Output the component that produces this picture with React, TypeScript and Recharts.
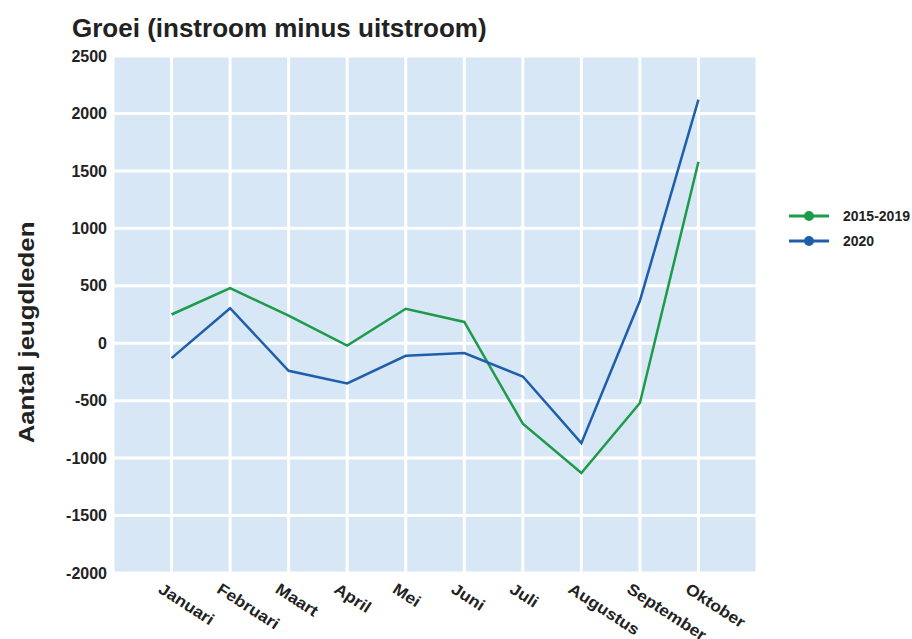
import { CartesianGrid, Line, LineChart, XAxis, YAxis } from "recharts";

document.body.style.margin = "0";

const FONT = "'Liberation Sans', Arial, sans-serif";

// maanden (categorieën)
const months = ["Januari", "Februari", "Maart", "April", "Mei", "Juni", "Juli", "Augustus", "September", "Oktober"];
// groei per maand
const avg2015to2019 = [250, 480, 240, -20, 300, 185, -700, -1130, -520, 1580];
const year2020 = [-130, 305, -240, -350, -110, -85, -290, -870, 370, 2120];
const yTicks = [-2000, -1500, -1000, -500, 0, 500, 1000, 1500, 2000, 2500];
const xTicks = months.map((_, i) => i);

const series = [
  { key: "a", name: "2015-2019", color: "#1e9a4b" },
  { key: "b", name: "2020", color: "#1f5faa" },
];

const data = months.map((m, i) => ({ i, month: m, a: avg2015to2019[i], b: year2020[i] }));

function MonthTick({ x, y, payload }: any) {
  const ax = x - 8;
  const ay = y + 1;
  return (
    <text x={0} y={0} dy="0.72em" transform={`translate(${ax} ${ay}) rotate(33) scale(1.1 1)`} textAnchor="start"
      fontFamily={FONT} fontWeight={700} fontSize={16} fill="#222">
      {months[payload.value]}
    </text>
  );
}

function YLabel({ viewBox }: any) {
  const cx = 26;
  const cy = viewBox.y + viewBox.height / 2 + 18;
  return (
    <text x={0} y={0} transform={`translate(${cx} ${cy}) rotate(-90) scale(1.12 1)`} textAnchor="middle"
      dominantBaseline="central" fontFamily={FONT} fontWeight={700} fontSize={23} fill="#222">
      Aantal jeugdleden
    </text>
  );
}

function LegendBox() {
  return (
    <div style={{ position: "absolute", left: 789, top: 203, fontFamily: FONT }}>
      {series.map((s) => (
        <div key={s.key} style={{ display: "flex", alignItems: "center", height: 25 }}>
          <svg width={40} height={12}>
            <line x1={0} y1={6} x2={40} y2={6} stroke={s.color} strokeWidth={3} />
            <circle cx={20} cy={6} r={5} fill={s.color} />
          </svg>
          <span style={{ marginLeft: 14, fontWeight: 700, fontSize: 14, color: "#222" }}>{s.name}</span>
        </div>
      ))}
    </div>
  );
}

export default function App() {
  return (
    <div style={{ position: "relative", width: 912, height: 639, background: "#fff" }}>
      <div style={{ position: "absolute", left: 72, top: 15, fontFamily: FONT, fontWeight: 700, fontSize: 26, lineHeight: "26px", color: "#222" }}>
        Groei (instroom minus uitstroom)
      </div>
      <LineChart width={912} height={639} data={data} margin={{ top: 56, right: 155, bottom: 0, left: 0 }}>
        <CartesianGrid fill="#d7e7f6" stroke="#fff" strokeWidth={3} />
        <XAxis dataKey="i" type="number" domain={[-1, 10]} ticks={xTicks} interval={0}
          axisLine={false} tickLine={false} tick={<MonthTick />} height={66} />
        <YAxis domain={[-2000, 2500]} ticks={yTicks} interval={0} width={113} axisLine={false} tickLine={false}
          tickMargin={0}
          tick={{ fontFamily: FONT, fontWeight: 700, fontSize: 16, fill: "#222" }}
          label={{ content: <YLabel /> }} />
        {series.map((s) => (
          <Line key={s.key} type="linear" dataKey={s.key} name={s.name} stroke={s.color} strokeWidth={2.5}
            dot={false} activeDot={false} isAnimationActive={false} />
        ))}
      </LineChart>
      <LegendBox />
    </div>
  );
}
